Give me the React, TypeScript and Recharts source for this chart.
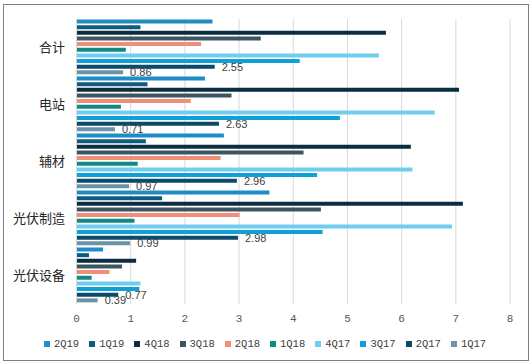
import { BarChart, Bar, XAxis, YAxis, CartesianGrid, Legend, LabelList } from 'recharts';

const categories = ['合计', '电站', '辅材', '光伏制造', '光伏设备'];
const xTicks = [0, 1, 2, 3, 4, 5, 6, 7, 8];

const q2_19 = [2.51, 2.37, 2.72, 3.56, 0.49];
const q1_19 = [1.18, 1.31, 1.28, 1.58, 0.23];
const q4_18 = [5.71, 7.06, 6.17, 7.13, 1.1];
const q3_18 = [3.4, 2.86, 4.19, 4.51, 0.84];
const q2_18 = [2.3, 2.11, 2.66, 3.01, 0.61];
const q1_18 = [0.91, 0.82, 1.13, 1.07, 0.28];
const q4_17 = [5.58, 6.61, 6.2, 6.93, 1.18];
const q3_17 = [4.12, 4.86, 4.44, 4.54, 1.16];
const q2_17 = [2.55, 2.63, 2.96, 2.98, 0.77];
const q1_17 = [0.86, 0.71, 0.97, 0.99, 0.39];

const series = [
  { key: '2Q19', values: q2_19, color: '#1e8dc6' },
  { key: '1Q19', values: q1_19, color: '#0f5b80' },
  { key: '4Q18', values: q4_18, color: '#0b2d40' },
  { key: '3Q18', values: q3_18, color: '#3c5560' },
  { key: '2Q18', values: q2_18, color: '#ef8f7a' },
  { key: '1Q18', values: q1_18, color: '#128a84' },
  { key: '4Q17', values: q4_17, color: '#6fcdf0' },
  { key: '3Q17', values: q3_17, color: '#0fa0d8' },
  { key: '2Q17', values: q2_17, color: '#0c4a6c' },
  { key: '1Q17', values: q1_17, color: '#6a93a8' },
];
const order = series.map((s) => s.key);
const labelled = ['2Q17', '1Q17'];

const data = categories.map((name, i) => {
  const row: Record<string, string | number> = { name };
  series.forEach((s) => {
    row[s.key] = s.values[i];
  });
  return row;
});

export default function App() {
  return (
    <div style={{ position: 'absolute', left: 0, top: 0, width: 532, height: 364, background: '#fff' }}>
      <div
        style={{
          position: 'absolute',
          left: 3,
          top: 4,
          width: 524,
          height: 355,
          border: '1px solid #808080',
        }}
      />
      <BarChart
        width={532}
        height={364}
        data={data}
        layout="vertical"
        margin={{ top: 19, right: 22, bottom: 14, left: 0 }}
        barCategoryGap={0.5}
        barGap={1.65}
      >
        <CartesianGrid horizontal={false} stroke="#d9d9d9" />
        <XAxis
          type="number"
          domain={[0, 8]}
          ticks={xTicks}
          axisLine={false}
          tickLine={false}
          tickMargin={4}
          height={34}
          tick={{ fill: '#595959', fontSize: 11, fontFamily: 'Liberation Mono' }}
        />
        <YAxis
          type="category"
          dataKey="name"
          width={76.5}
          axisLine={{ stroke: '#d9d9d9' }}
          tickLine={false}
          tickMargin={5.5}
          tick={{ fill: '#262626', fontSize: 13, fontFamily: 'Noto Sans CJK SC' }}
        />
        <Legend
          verticalAlign="bottom"
          iconType="square"
          iconSize={6}
          itemSorter={(item: { value: string }) => order.indexOf(item.value)}
          wrapperStyle={{ left: 12, width: 516, fontSize: 10.5, fontFamily: 'Liberation Mono', color: '#404040' }}
          formatter={(v) => <span style={{ color: '#404040' }}>{v}</span>}
        />
        {series.map((s) => (
          <Bar key={s.key} dataKey={s.key} fill={s.color} isAnimationActive={false}>
            {labelled.includes(s.key) && (
              <LabelList
                dataKey={s.key}
                position="right"
                offset={7}
                fill="#404040"
                fontSize={11}
                fontFamily="Liberation Sans"
                formatter={(v: number) => v.toFixed(2)}
              />
            )}
          </Bar>
        ))}
      </BarChart>
    </div>
  );
}
